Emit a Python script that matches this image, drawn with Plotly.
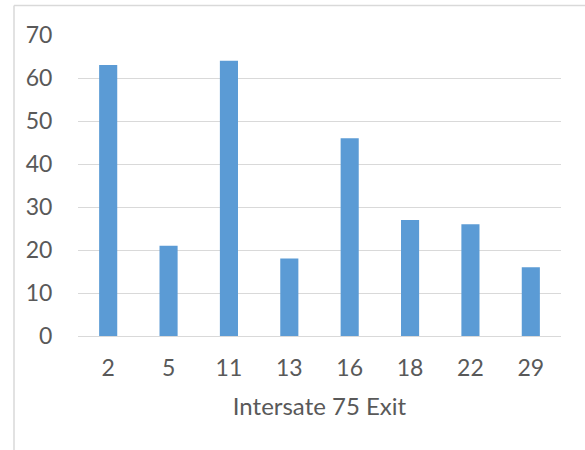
import plotly.graph_objects as go

# Exit numbers along Interstate 75 and their counts
exits = ["2", "5", "11", "13", "16", "18", "22", "29"]
counts = [63, 21, 64, 18, 46, 27, 26, 16]
y_ticks = [0, 10, 20, 30, 40, 50, 60, 70]

W, H = 585, 450
L, R, T, B = 78, 24, 35, 114
pw, ph = W - L - R, H - T - B

fig = go.Figure(
    go.Bar(
        x=exits,
        y=counts,
        marker=dict(color="#5b9bd5", line=dict(width=0)),
    )
)

text_color = "#595959"
grid_color = "#d9d9d9"
fs = 23

fig.update_layout(
    width=W,
    height=H,
    margin=dict(l=L, r=R, t=T, b=B),
    paper_bgcolor="white",
    plot_bgcolor="white",
    bargap=0.70,
    showlegend=False,
    font=dict(family="Lato", size=fs, color=text_color),
    xaxis=dict(
        type="category",
        showgrid=False,
        showline=True,
        linecolor=grid_color,
        linewidth=1,
        ticks="outside",
        ticklen=11,
        tickcolor="rgba(0,0,0,0)",
        tickfont=dict(size=fs, color=text_color),
        title=dict(text="Intersate 75 Exit", font=dict(size=24, color=text_color), standoff=18),
    ),
    yaxis=dict(
        range=[0, 70],
        tickvals=y_ticks,
        showgrid=True,
        gridcolor=grid_color,
        gridwidth=1,
        zeroline=False,
        showline=False,
        ticks="outside",
        ticklen=20,
        tickcolor="rgba(0,0,0,0)",
        tickfont=dict(size=fs, color=text_color),
    ),
)

# Chart-area frame (top and left edges; others run off the canvas)
fx = (14 - L) / pw
fy = (H - B - 5.5) / ph
frame = dict(color=grid_color, width=1.5)
fig.add_shape(type="line", xref="paper", yref="paper", x0=fx, x1=1.3, y0=fy, y1=fy, line=frame)
fig.add_shape(type="line", xref="paper", yref="paper", x0=fx, x1=fx, y0=fy, y1=-0.5, line=frame)

fig.write_html("out.html")
